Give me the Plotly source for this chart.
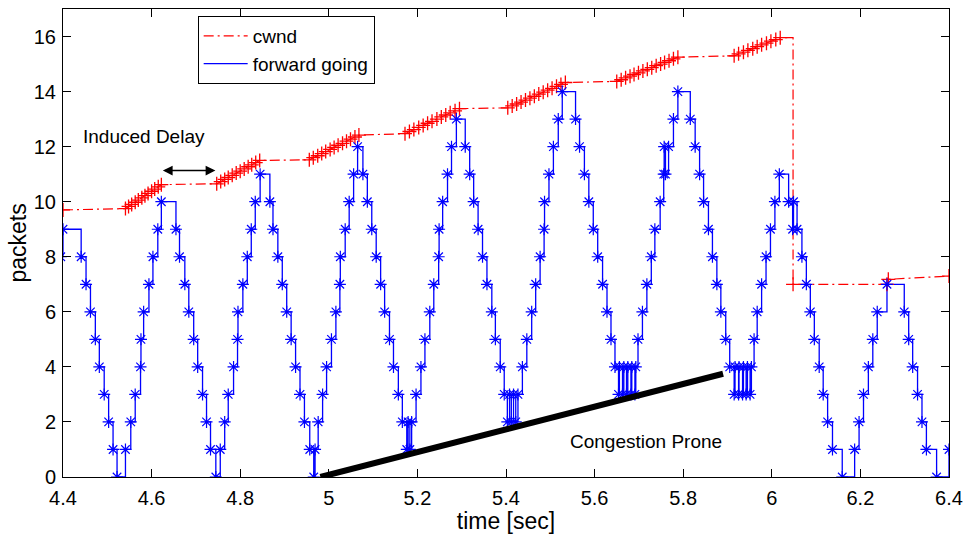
import plotly.graph_objects as go

# ---- forward-going packets in flight (stairs, one sample per packet event) ----
fwd_time = [
    4.395, 4.400, 4.441, 4.452, 4.462, 4.473, 4.482, 4.493, 4.503, 4.513, 4.522,
    4.541, 4.553, 4.563, 4.575, 4.576, 4.582, 4.594, 4.603, 4.614, 4.622,
    4.655, 4.663, 4.675, 4.684, 4.695, 4.704, 4.715, 4.724, 4.733, 4.745,
    4.755, 4.765, 4.773, 4.785, 4.794, 4.795, 4.806, 4.816, 4.825, 4.834, 4.845,
    4.867, 4.874, 4.885, 4.895, 4.905, 4.915, 4.925, 4.935, 4.945, 4.957, 4.966,
    4.969, 4.976, 4.986, 4.995, 5.006, 5.016, 5.025, 5.026, 5.037, 5.046, 5.056, 5.065,
    5.077, 5.087, 5.097, 5.107, 5.117, 5.126, 5.137, 5.146, 5.157, 5.166,
    5.176, 5.179, 5.183, 5.187,
    5.197, 5.208, 5.217, 5.228, 5.237, 5.248, 5.249, 5.257, 5.268, 5.277, 5.288,
    5.308, 5.318, 5.327, 5.337, 5.347, 5.357, 5.368, 5.376, 5.387, 5.396,
    5.403, 5.408, 5.412, 5.417, 5.422, 5.427,
    5.437, 5.447, 5.458, 5.467, 5.477, 5.486, 5.487, 5.497, 5.507, 5.518, 5.527,
    5.557, 5.566, 5.577, 5.587, 5.597, 5.607, 5.618, 5.628, 5.637, 5.646,
    5.654, 5.656, 5.663, 5.666, 5.672, 5.675, 5.682, 5.684, 5.691, 5.693,
    5.698, 5.708, 5.718, 5.728, 5.736, 5.748, 5.756, 5.757, 5.760, 5.767, 5.778, 5.788,
    5.816, 5.827, 5.837, 5.846, 5.857, 5.866, 5.876, 5.885, 5.896, 5.905,
    5.915, 5.917, 5.925, 5.926, 5.934, 5.936, 5.942, 5.945, 5.951, 5.954,
    5.960, 5.967, 5.977, 5.987, 5.997, 6.007, 6.017,
    6.038, 6.047, 6.049, 6.057, 6.068, 6.078, 6.087, 6.096, 6.107, 6.116, 6.126, 6.137, 6.159,
    6.187, 6.197, 6.207, 6.218, 6.228, 6.238, 6.260,
    6.299, 6.309, 6.318, 6.329, 6.339, 6.349, 6.372, 6.400,
]
fwd_packets = [
    8, 9, 8, 7, 6, 5, 4, 3, 2, 1, 0,
    1, 2, 3, 4, 5, 6, 7, 8, 9, 10,
    9, 8, 7, 6, 5, 4, 3, 2, 1, 0,
    1, 2, 3, 4, 5, 6, 7, 8, 9, 10, 11,
    10, 9, 8, 7, 6, 5, 4, 3, 2, 1, 0,
    1, 2, 3, 4, 5, 6, 7, 8, 9, 10, 11, 12,
    11, 10, 9, 8, 7, 6, 5, 4, 3, 2,
    1, 2, 1, 2,
    3, 4, 5, 6, 7, 8, 9, 10, 11, 12, 13,
    12, 11, 10, 9, 8, 7, 6, 5, 4, 3,
    2, 3, 2, 3, 2, 3,
    4, 5, 6, 7, 8, 9, 10, 11, 12, 13, 14,
    13, 12, 11, 10, 9, 8, 7, 6, 5, 4,
    3, 4, 3, 4, 3, 4, 3, 4, 3, 4,
    5, 6, 7, 8, 9, 10, 11, 12, 11, 12, 13, 14,
    13, 12, 11, 10, 9, 8, 7, 6, 5, 4,
    3, 4, 3, 4, 3, 4, 3, 4, 3, 4,
    5, 6, 7, 8, 9, 10, 11,
    10, 9, 10, 9, 8, 7, 6, 5, 4, 3, 2, 1, 0,
    1, 2, 3, 4, 5, 6, 7,
    6, 5, 4, 3, 2, 1, 0, 1,
]

# ---- congestion window ----
cwnd_time = [
    4.400,
    4.541, 4.548, 4.555, 4.563, 4.570, 4.578, 4.585, 4.592, 4.600, 4.607, 4.615, 4.622,
    4.747, 4.756, 4.765, 4.773, 4.782, 4.791, 4.800, 4.809, 4.818, 4.826, 4.835, 4.844,
    4.956, 4.965, 4.975, 4.984, 4.993, 5.003, 5.012, 5.021, 5.031, 5.040, 5.049, 5.059, 5.068,
    5.172, 5.182, 5.192, 5.203, 5.213, 5.223, 5.233, 5.244, 5.254, 5.264, 5.274, 5.285, 5.295,
    5.404, 5.414, 5.424, 5.434, 5.444, 5.454, 5.464, 5.474, 5.484, 5.494, 5.504, 5.514, 5.524, 5.534,
    5.650, 5.660, 5.670, 5.680, 5.689, 5.699, 5.709, 5.719, 5.729, 5.739, 5.749, 5.758, 5.768, 5.778, 5.788,
    5.915, 5.925, 5.936, 5.946, 5.957, 5.967, 5.977, 5.988, 5.998, 6.009, 6.019,
    6.048, 6.048, 6.260, 6.263, 6.400,
]
cwnd_packets = [
    9.70,
    9.75, 9.83, 9.90, 9.98, 10.06, 10.14, 10.22, 10.30, 10.38, 10.46, 10.54, 10.62,
    10.65, 10.73, 10.81, 10.88, 10.96, 11.04, 11.11, 11.19, 11.27, 11.34, 11.42, 11.50,
    11.52, 11.60, 11.67, 11.75, 11.82, 11.90, 11.97, 12.05, 12.12, 12.20, 12.27, 12.35, 12.42,
    12.47, 12.55, 12.62, 12.70, 12.77, 12.85, 12.92, 13.00, 13.08, 13.15, 13.23, 13.30, 13.38,
    13.41, 13.48, 13.55, 13.62, 13.69, 13.76, 13.83, 13.91, 13.98, 14.05, 14.12, 14.19, 14.26, 14.33,
    14.37, 14.43, 14.50, 14.56, 14.62, 14.68, 14.75, 14.81, 14.87, 14.94, 15.00, 15.06, 15.12, 15.19, 15.25,
    15.30, 15.37, 15.43, 15.50, 15.56, 15.63, 15.70, 15.76, 15.83, 15.89, 15.96,
    15.96, 7.00, 7.00, 7.18, 7.30,
]

# ---- "Congestion Prone" trend line ----
trend_time = [4.981, 5.890]
trend_packets = [0.0, 3.75]

x_ticks = [4.4, 4.6, 4.8, 5.0, 5.2, 5.4, 5.6, 5.8, 6.0, 6.2, 6.4]
x_tick_labels = ["4.4", "4.6", "4.8", "5", "5.2", "5.4", "5.6", "5.8", "6", "6.2", "6.4"]
y_ticks = [0, 2, 4, 6, 8, 10, 12, 14, 16]

FONT = "Liberation Sans, Arial, Helvetica, sans-serif"
BLUE = "#0000ff"
RED = "#ff0000"

# the top corner of a vertical drop carries no "+" marker
cwnd_mark_t, cwnd_mark_v = [], []
for i, (t, v) in enumerate(zip(cwnd_time, cwnd_packets)):
    if i + 1 < len(cwnd_time) and cwnd_time[i + 1] == t:
        continue
    cwnd_mark_t.append(t)
    cwnd_mark_v.append(v)

fig = go.Figure()

fig.add_trace(go.Scatter(
    x=cwnd_time, y=cwnd_packets, mode="lines", name="cwnd",
    line=dict(color=RED, width=1.2, dash="10px,4px,2px,4px"),
))
fig.add_trace(go.Scatter(
    x=fwd_time, y=fwd_packets, mode="lines", name="forward going",
    line=dict(color=BLUE, width=1.3, shape="hv"),
))
fig.add_trace(go.Scatter(
    x=cwnd_mark_t, y=cwnd_mark_v, mode="markers", showlegend=False,
    marker=dict(symbol="cross-thin-open", size=10, color=RED,
                line=dict(color=RED, width=1.3)),
))
fig.add_trace(go.Scatter(
    x=fwd_time, y=fwd_packets, mode="markers", showlegend=False,
    marker=dict(symbol="asterisk-open", size=10, color=BLUE,
                line=dict(color=BLUE, width=1.2)),
))
fig.add_trace(go.Scatter(
    x=trend_time, y=trend_packets, mode="lines", showlegend=False,
    line=dict(color="black", width=6),
))

fig.add_annotation(x=4.583, y=12.37, text="Induced Delay", showarrow=False,
                   font=dict(size=19, color="black", family=FONT))
fig.add_annotation(x=4.744, y=11.13, ax=4.622, ay=11.13, axref="x", ayref="y",
                   text="", showarrow=True, arrowside="end+start",
                   arrowhead=2, arrowsize=1.3, arrowwidth=1.5, arrowcolor="black")
fig.add_annotation(x=5.716, y=1.30, text="Congestion Prone", showarrow=False,
                   font=dict(size=19, color="black", family=FONT))

axis_common = dict(
    showline=True, linecolor="black", linewidth=1, mirror="allticks",
    ticks="inside", ticklen=8, tickcolor="black", tickwidth=1,
    showgrid=False, zeroline=False,
    tickfont=dict(size=20, color="black", family=FONT),
)

fig.update_xaxes(range=[4.4, 6.4], tickvals=x_ticks, ticktext=x_tick_labels,
                 ticklabelstandoff=3,
                 title=dict(text="time [sec]", standoff=0,
                            font=dict(size=23, color="black", family=FONT)),
                 **axis_common)
fig.update_yaxes(range=[0, 17], tickvals=y_ticks, ticklabelstandoff=2,
                 title=dict(text="packets", standoff=0,
                            font=dict(size=23, color="black", family=FONT)),
                 **axis_common)

fig.update_layout(
    width=971, height=534,
    margin=dict(l=63, r=14, t=8, b=57),
    paper_bgcolor="white", plot_bgcolor="white",
    font=dict(family=FONT, color="black"),
    legend=dict(x=0.152, y=0.985, xanchor="left", yanchor="top",
                bgcolor="white", bordercolor="black", borderwidth=1,
                itemwidth=44,
                font=dict(size=19, color="black", family=FONT),
                tracegroupgap=0),
)

fig.write_html("out.html")
